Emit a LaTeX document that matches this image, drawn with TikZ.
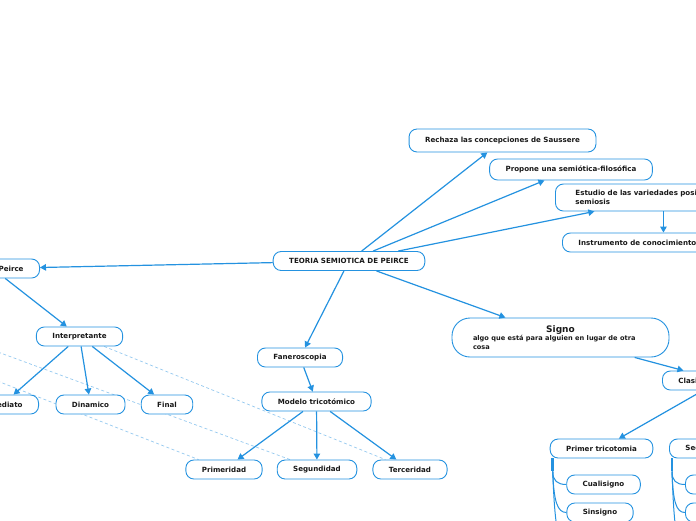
\documentclass[tikz,border=0pt]{standalone}
\usepackage{fontspec}
\setmainfont{DejaVu Sans}
\usetikzlibrary{arrows.meta,backgrounds}
\definecolor{mapblue}{RGB}{36,146,224}
\definecolor{linkblue}{RGB}{150,202,240}
\definecolor{inkgray}{RGB}{25,25,25}

\begin{document}
\begin{tikzpicture}[
    x=1pt, y=-1pt,
    every node/.style={font=\fontsize{7.1}{8.5}\selectfont\bfseries, text=inkgray},
    topic/.style={
      draw=mapblue, fill=white, line width=0.9pt,
      rounded corners=8pt,
      inner xsep=16pt, inner ysep=2pt, minimum height=19pt,
    },
    arr/.style={draw=mapblue, line width=1.2pt, -{Triangle[length=6pt,width=6.5pt]}},
    link/.style={draw=linkblue, line width=0.7pt, dash pattern=on 3pt off 2.5pt},
    stem/.style={draw=mapblue, line width=2.6pt},
    branch/.style={draw=mapblue, line width=1pt},
  ]
\useasboundingbox (0,0) rectangle (696,520);
\clip (0,0) rectangle (696,520);

% --- central topic
\node[topic] (teoria) at (349,261) {TEORIA SEMIOTICA DE PEIRCE};

% --- upper right branch
\node[topic, minimum height=23pt] (rechaza) at (502.5,140.5) {Rechaza las concepciones de Saussere};
\node[topic, minimum height=21pt] (propone) at (571,169.5) {Propone una semiótica-filosófica};
\node[topic, anchor=west, inner xsep=20pt, text width=176pt, align=left, minimum height=27pt] (estudio) at (555,197.5) {Estudio de las variedades posibles de semiosis};
\node[topic, anchor=west] (instrum) at (562,242.5) {Instrumento de conocimiento};

% --- left branch
\node[topic, anchor=east, text width=62pt, align=right] (peirce) at (40,268.5) {Peirce};
\node[topic] (interp) at (79.5,336.5) {Interpretante};
\node[topic, anchor=east] (inmed) at (39,404.5) {Inmediato};
\node[topic] (dinam) at (90.5,404.5) {Dinamico};
\node[topic] (final) at (167,404.5) {Final};

% --- centre branch
\node[topic] (fanero) at (300,357.5) {Faneroscopia};
\node[topic] (modelo) at (316.5,401.5) {Modelo tricotómico};
\node[topic] (primer) at (224,469.5) {Primeridad};
\node[topic] (segund) at (317,469.5) {Segundidad};
\node[topic] (tercer) at (410,469.5) {Terceridad};

% --- right branch
\node[topic, rounded corners=18pt, text width=175pt, align=left, inner xsep=21pt, minimum height=39pt] (signo) at (560.5,337.5) {%
  \makebox[175pt]{\fontsize{9}{10}\selectfont Signo}\\
  {\fontsize{6.6}{8}\selectfont algo que está para alguien en lugar de otra cosa}};
\node[topic, anchor=west, text width=84pt, align=left] (clasif) at (662,380.5) {Clasificación};
\node[topic] (tric1) at (601.5,448.5) {Primer tricotomia};
\node[topic, anchor=west] (tric2) at (669,448.5) {Segunda tricotomia};
\node[topic] (cuali) at (603.5,484.5) {Cualisigno};
\node[topic] (sinsig) at (600,512.5) {Sinsigno};
\node[topic, anchor=west, minimum width=60pt] (tric2a) at (685,484.5) {};
\node[topic, anchor=west, minimum width=60pt] (tric2b) at (685,512.5) {};
\coordinate (tric1c) at (567,545);
\coordinate (tric2c) at (685,545);

% --- arrows
\draw[arr] (teoria) -- (rechaza);
\draw[arr] (teoria) -- (propone);
\draw[arr] (teoria) -- (estudio);
\draw[arr] (estudio.south) -- (estudio.south |- instrum.north);
\draw[arr] (teoria) -- (peirce);
\draw[arr] (teoria) -- (fanero);
\draw[arr] (teoria) -- (signo);
\draw[arr] (peirce) -- (interp);
\draw[arr] (interp) -- (inmed);
\draw[arr] (interp) -- (dinam);
\draw[arr] (interp) -- (final);
\draw[arr] (fanero) -- (modelo);
\draw[arr] (modelo) -- (primer);
\draw[arr] (modelo) -- (segund);
\draw[arr] (modelo) -- (tercer);
\draw[arr] (signo) -- (clasif);
\draw[arr] (clasif) -- (tric1);

% --- tree connectors under the tricotomias
\draw[stem] ([xshift=3pt]tric1.south west) -- ++(0,13) coordinate (tric1s);
\draw[branch] (tric1s) .. controls +(0,9) and +(-9,0) .. (cuali.west);
\draw[branch] (tric1s) .. controls +(1,30) and +(-9,0) .. (sinsig.west);
\draw[branch] (tric1s) .. controls +(2,55) and +(-9,0) .. (tric1c);
\draw[stem] ([xshift=3pt]tric2.south west) -- ++(0,13) coordinate (tric2s);
\draw[branch] (tric2s) .. controls +(0,9) and +(-9,0) .. (tric2a.west);
\draw[branch] (tric2s) .. controls +(1,30) and +(-9,0) .. (tric2b.west);
\draw[branch] (tric2s) .. controls +(2,55) and +(-9,0) .. (tric2c);

% --- dashed relations, behind the boxes
\begin{scope}[on background layer]
  \clip (0,0) rectangle (696,520);
  \fill[white] (0,0) rectangle (696,520);
  \coordinate (objsrc) at (-100,316);
  \coordinate (repsrc) at (-100,343);
  \draw[link] (objsrc) -- (segund);
  \draw[link] (repsrc) -- (primer);
  \draw[link] (interp) -- (tercer);
\end{scope}
\end{tikzpicture}
\end{document}
